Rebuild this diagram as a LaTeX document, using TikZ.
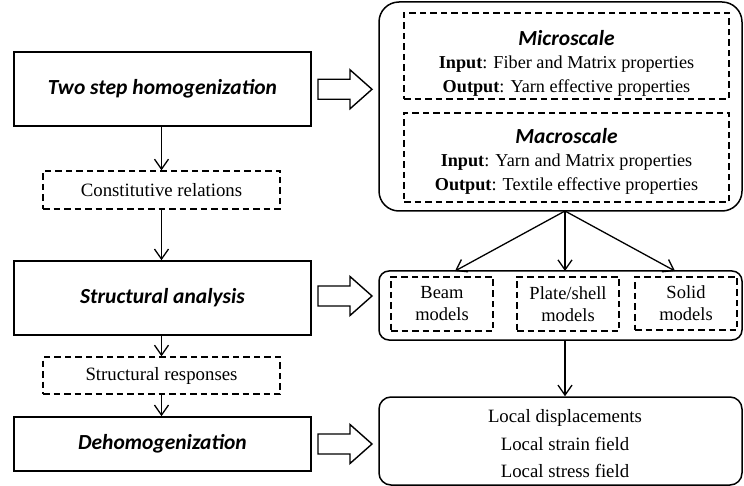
\documentclass[tikz,border=0pt]{standalone}
\usepackage{fontspec}
\setmainfont{Liberation Serif}
\newfontfamily\headfont{Carlito}
\newcommand{\hdtext}{\headfont\bfseries\itshape\fontsize{21.5}{24}\selectfont}
\usetikzlibrary{arrows.meta}
\begin{document}
\begin{tikzpicture}[x=1pt,y=-1pt,
  mainbox/.style={draw, line width=1.6pt, inner sep=0pt, minimum width=297pt,
    font=\hdtext},
  dashbox/.style={draw, line width=1.4pt, dash pattern=on 6.5pt off 4pt, inner sep=0pt,
    align=center, font=\fontsize{18.8}{23}\selectfont},
  roundbox/.style={draw, line width=1.5pt, inner sep=0pt, minimum width=363pt, align=center},
  txt/.style={align=center, inner sep=0pt},
  arr/.style={line width=1.3pt, -{Straight Barb[length=10pt,width=14pt,line width=1.3pt]}},
  blockarrow/.style={draw, line width=1.4pt, fill=white}
]
\useasboundingbox (0,0) rectangle (744,486);

% left column
\node[mainbox, minimum height=74pt] (two) at (162.5,89) {Two step homogenization};
\node[dashbox, minimum width=237pt, minimum height=38pt] (cons) at (161.5,190) {Constitutive relations};
\node[mainbox, minimum height=74pt] (struct) at (162.5,298) {Structural analysis};
\node[dashbox, minimum width=237pt, minimum height=37pt] (resp) at (161.5,375.5) {Structural responses};
\node[mainbox, minimum height=54pt] (deh) at (162.5,444) {Dehomogenization};

\draw[arr] (two.south -| cons.north) -- (cons.north);
\draw[arr] (cons.south) -- (cons.south |- struct.north);
\draw[arr] (struct.south -| resp.north) -- (resp.north);
\draw[arr] (resp.south) -- (resp.south |- deh.north);

% right column
\node[roundbox, minimum height=209pt, rounded corners=20pt] (big) at (560.5,106.5) {};
\node[dashbox, minimum width=325pt, minimum height=86pt] (micro) at (566.5,56) {};
\node[txt, font=\fontsize{18.2}{23.5}\selectfont] (microtext) at (566.5,63)
  {{\hdtext Microscale}\\ \textbf{Input}: Fiber and Matrix properties\\ \textbf{Output}: Yarn effective properties};
\node[dashbox, minimum width=325pt, minimum height=89pt] (macro) at (566.5,157.5) {};
\node[txt, font=\fontsize{18.2}{23.5}\selectfont] (macrotext) at (566.5,161)
  {{\hdtext Macroscale}\\ \textbf{Input}: Yarn and Matrix properties\\ \textbf{Output}: Textile effective properties};

\node[roundbox, minimum height=69pt, rounded corners=10pt] (models) at (560.5,305.5) {};
\node[dashbox, minimum width=102pt, minimum height=54pt, font=\fontsize{18.5}{22}\selectfont] (beam) at (442,304) {Beam\\models};
\node[dashbox, minimum width=102pt, minimum height=54pt, font=\fontsize{18.5}{22}\selectfont] (plate) at (568,304) {Plate/shell\\models};
\node[dashbox, minimum width=102pt, minimum height=53pt, font=\fontsize{18.5}{22}\selectfont] (solid) at (686,303.5) {Solid\\models};

\node[roundbox, minimum height=88pt, rounded corners=12pt] (local) at (560.5,441) {};
\node[txt, font=\fontsize{18.8}{27.5}\selectfont] (localtext) at (565,444)
  {Local displacements\\ Local strain field\\ Local stress field};

\coordinate (fan) at (565,211);
\coordinate (tl) at (455,271);
\coordinate (tm) at (565,271);
\coordinate (tr) at (675,271);
\draw[arr] (fan) -- (tl);
\draw[arr] (fan) -- (tm);
\draw[arr] (fan) -- (tr);
\coordinate (mb) at (565,340);
\draw[arr] (mb) -- (mb |- local.north);

% block arrows
\foreach \yc in {89.3, 296, 444} {
  \draw[blockarrow, line join=miter] (318,\yc-10) -- (350,\yc-10) -- (350,\yc-19.5) -- (372,\yc)
    -- (350,\yc+19.5) -- (350,\yc+10) -- (318,\yc+10) -- cycle;
}
\end{tikzpicture}
\end{document}
